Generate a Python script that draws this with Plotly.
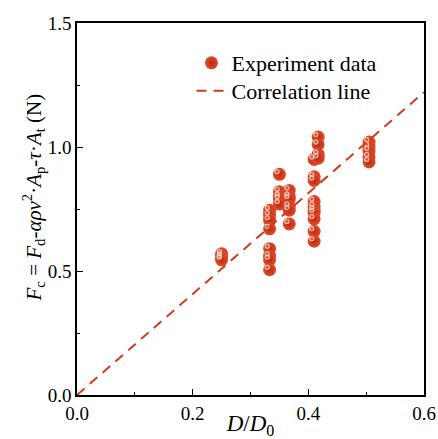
import plotly.graph_objects as go

# Experimental data grouped by D/D0
d_ratio = [0.25]*4 + [0.333]*8 + [0.35]*5 + [0.367]*6 + [0.41]*10 + [0.417]*4 + [0.505]*5
fc_values = [0.57, 0.56, 0.55, 0.545,
             0.745, 0.725, 0.705, 0.67, 0.59, 0.56, 0.545, 0.505,
             0.89, 0.82, 0.80, 0.79, 0.77,
             0.825, 0.80, 0.79, 0.76, 0.745, 0.69,
             0.95, 0.88, 0.865, 0.78, 0.76, 0.745, 0.735, 0.71, 0.66, 0.62,
             1.04, 1.01, 0.97, 0.955,
             1.02, 1.0, 0.985, 0.96, 0.94]

# Correlation line
line_x = [0.0, 0.6]
slope = 2.035
line_y = [slope * v for v in line_x]

red = "#d33a1c"
font = "Liberation Serif, Times New Roman, serif"

# small offset for the specular highlight (upper-left of each sphere)
hx = [v - 0.004 for v in d_ratio]
hy = [v + 0.01 for v in fc_values]

fig = go.Figure()
fig.add_trace(go.Scatter(
    x=d_ratio, y=fc_values, mode="markers", name="Experiment data",
    marker=dict(size=13, color="#e24b29",
                gradient=dict(type="radial", color="#b72a0d"),
                line=dict(width=0)),
    legend="legend",
))
fig.add_trace(go.Scatter(
    x=hx, y=hy, mode="markers", showlegend=False, hoverinfo="skip",
    marker=dict(size=5, color="rgba(255,250,248,1)",
                gradient=dict(type="radial", color="rgba(240,120,95,0.0)"),
                line=dict(width=0)),
))
fig.add_trace(go.Scatter(
    x=line_x, y=line_y, mode="lines", name="Correlation line",
    line=dict(color=red, width=2, dash="10px,7px"), legend="legend2",
))

leg_common = dict(xanchor="left", yanchor="middle", bgcolor="rgba(0,0,0,0)",
                  font=dict(size=22, family=font), borderwidth=0)

fig.update_layout(
    width=438, height=439,
    margin=dict(l=77, r=14, t=23, b=44),
    paper_bgcolor="white", plot_bgcolor="white",
    font=dict(family=font, size=19, color="black"),
    showlegend=True,
    legend=dict(x=0.33, y=(395 - 63) / 372, **leg_common),
    legend2=dict(x=0.33, y=(395 - 91) / 372, **leg_common),
    xaxis=dict(range=[0, 0.6], tickvals=[0, 0.2, 0.4, 0.6],
               ticktext=["0.0", "0.2", "0.4", "0.6"],
               ticks="inside", ticklen=6, tickwidth=1.3, tickcolor="black",
               minor=dict(tickvals=[0.1, 0.3, 0.5], ticks="inside", ticklen=3, tickwidth=1.3, tickcolor="black"),
               showline=True, linecolor="black", linewidth=1.5, mirror=True,
               showgrid=False, zeroline=False, automargin=False,
               title=dict(text="<i>D</i>/<i>D</i><sub>0</sub>", standoff=0)),
    yaxis=dict(range=[0, 1.5], tickvals=[0, 0.5, 1.0, 1.5],
               ticktext=["0.0", "0.5", "1.0", "1.5"],
               ticks="inside", ticklen=6, tickwidth=1.3, tickcolor="black",
               minor=dict(tickvals=[0.25, 0.75, 1.25], ticks="inside", ticklen=3, tickwidth=1.3, tickcolor="black"),
               showline=True, linecolor="black", linewidth=1.5, mirror=True,
               showgrid=False, zeroline=False, automargin=False),
    annotations=[dict(
        text="<i>F</i><sub>c</sub> = <i>F</i><sub>d</sub>-<i>αρv</i><sup>2</sup>·<i>A</i><sub>p</sub>-<i>τ</i>·<i>A</i><sub>t</sub> (N)",
        textangle=-90, xref="paper", yref="paper", x=-0.125, y=0.53,
        xanchor="center", yanchor="middle", showarrow=False,
        font=dict(size=21))],
)

fig.write_html("out.html")
